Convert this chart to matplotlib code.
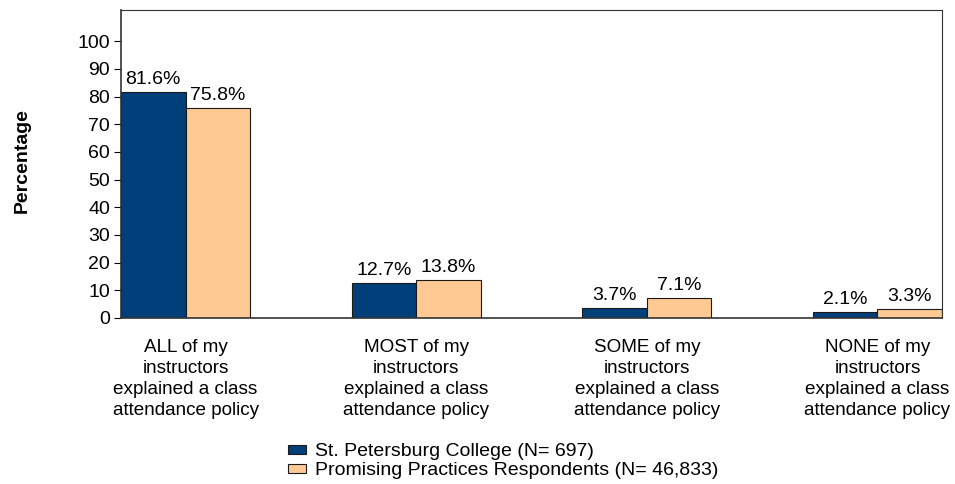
import matplotlib.pyplot as plt
import numpy as np

plt.rcParams['font.family'] = ['Liberation Sans', 'DejaVu Sans']

categories = ['ALL of my\ninstructors\nexplained a class\nattendance policy',
              'MOST of my\ninstructors\nexplained a class\nattendance policy',
              'SOME of my\ninstructors\nexplained a class\nattendance policy',
              'NONE of my\ninstructors\nexplained a class\nattendance policy']
college = [81.6, 12.7, 3.7, 2.1]
promising = [75.8, 13.8, 7.1, 3.3]
series_names = ['St. Petersburg College (N= 697)',
                'Promising Practices Respondents (N= 46,833)']

blue = '#003f7a'
orange = '#ffc994'
fs = 14

fig = plt.figure(figsize=(9.55, 4.84), dpi=100)
ax = fig.add_axes([0.1267, 0.343, 0.8597, 0.636])

x = np.arange(len(categories))
w = 0.28
b1 = ax.bar(x - w / 2, college, w, color=blue, edgecolor='#1a1a1a', linewidth=0.8,
            label=series_names[0])
b2 = ax.bar(x + w / 2, promising, w, color=orange, edgecolor='#1a1a1a', linewidth=0.8,
            label=series_names[1])

for bars, vals in ((b1, college), (b2, promising)):
    for r, v in zip(bars, vals):
        ax.annotate(f'{v}%', (r.get_x() + r.get_width() / 2, v),
                    xytext=(0, 3), textcoords='offset points',
                    ha='center', va='bottom', fontsize=fs)

ax.set_xlim(-0.28, 3.28)
ax.set_ylim(0, 111.2)
ax.set_yticks(range(0, 101, 10))
ax.tick_params(axis='y', labelsize=fs, length=5, width=0.8, pad=3)
ax.set_xticks(x)
ax.set_xticklabels(categories, fontsize=13.6, linespacing=1.3)
ax.tick_params(axis='x', length=0, pad=15)
for s in ax.spines.values():
    s.set_color('#333333')
    s.set_linewidth(0.8)
ax.spines['left'].set_linewidth(1.2)
ax.spines['bottom'].set_linewidth(1.2)

fig.text(0.023, 0.669, 'Percentage', rotation=90, fontsize=fs, fontweight='bold',
         ha='center', va='center')

leg = fig.legend(handles=[b1, b2], loc='center left', bbox_to_anchor=(0.302, 0.047),
                 frameon=False, fontsize=fs, handlelength=0.88, handleheight=0.36,
                 handletextpad=0.5, labelspacing=0.1, borderaxespad=0, borderpad=0)

fig.savefig('out.png', dpi=100)
